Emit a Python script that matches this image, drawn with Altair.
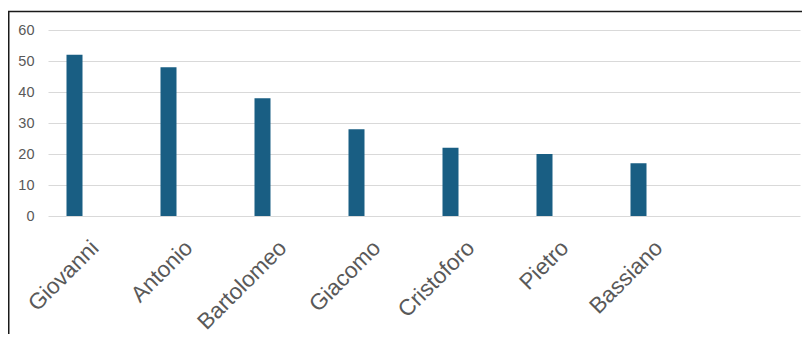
import altair as alt
import pandas as pd

names = ["Giovanni", "Antonio", "Bartolomeo", "Giacomo", "Cristoforo", "Pietro", "Bassiano"]
counts = [52, 48, 38, 28, 22, 20, 17]
domain_extra = [" "]  # empty trailing category slot
y_ticks = [0, 10, 20, 30, 40, 50, 60]

df = pd.DataFrame({"name": names, "count": counts})

W, H = 752, 186
PL, PT, PR, PB = 40, 22, 2, 118

x_scale = alt.Scale(domain=names + domain_extra, paddingInner=0, paddingOuter=0)

bars = alt.Chart(df).mark_bar(color="#195e83", width=16, xOffset=-20.5).encode(
    x=alt.X("name:N", scale=x_scale, sort=None,
            axis=alt.Axis(title=None, labelAngle=-45, labelAlign="right", labelBaseline="middle",
                          labelFontSize=22.5, labelColor="#595959", labelFont="Liberation Sans",
                          labelPadding=28, ticks=False, domain=False, grid=False,
                          labelOverlap=False)),
    y=alt.Y("count:Q", scale=alt.Scale(domain=[0, 60], nice=False),
            axis=alt.Axis(title=None, values=y_ticks, grid=True, gridColor="#d9d9d9", gridWidth=1,
                          ticks=False, domain=False, labelFontSize=14.5, labelColor="#595959",
                          labelFont="Liberation Sans", labelPadding=14)),
)

frame_df = pd.DataFrame({"k": [0]})
top_line = alt.Chart(frame_df).mark_rule(color="#1a1a1a", strokeWidth=1.5).encode(
    x=alt.value(-PL), x2=alt.value(W + PR), y=alt.value(-18.5)
)
left_line = alt.Chart(frame_df).mark_rule(color="#1a1a1a", strokeWidth=1.5).encode(
    x=alt.value(-PL + 0.75), y=alt.value(-18.5), y2=alt.value(H + PB)
)

chart = alt.layer(bars, top_line, left_line).properties(
    width=W, height=H,
    background="white",
    autosize=alt.AutoSizeParams(type="none"),
    padding={"left": PL, "top": PT, "right": PR, "bottom": PB},
).configure_view(strokeWidth=0, stroke=None)

chart.save("out.html", embed_options={"renderer": "svg", "actions": False})
